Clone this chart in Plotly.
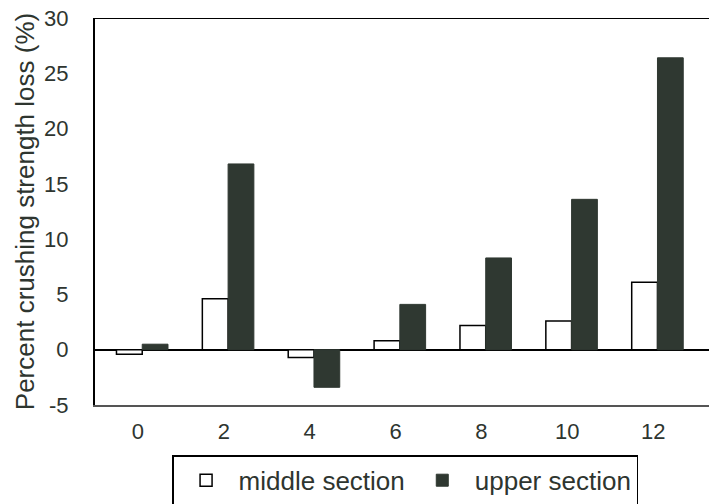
import plotly.graph_objects as go

categories = [0, 2, 4, 6, 8, 10, 12]
middle_section = [-0.4, 4.6, -0.7, 0.8, 2.2, 2.6, 6.1]
upper_section = [0.5, 16.8, -3.4, 4.1, 8.3, 13.6, 26.4]
y_ticks = [-5, 0, 5, 10, 15, 20, 25, 30]

font_col = "#2e352f"
dark = "#2f3831"

fig = go.Figure()
fig.add_trace(go.Bar(x=categories, y=middle_section, name="middle section",
                     marker=dict(color="white", line=dict(color="black", width=1.5)),
                     width=0.6, offset=-0.5))
fig.add_trace(go.Bar(x=categories, y=upper_section, name="upper section",
                     marker=dict(color=dark, line=dict(color=dark, width=1)),
                     width=0.6, offset=0.1))

fig.update_layout(
    width=709, height=504,
    margin=dict(l=95, r=0, t=18, b=99, autoexpand=False),
    paper_bgcolor="white", plot_bgcolor="white",
    font=dict(family="Liberation Sans, Arial, sans-serif", size=22, color=font_col),
    showlegend=True,
    legend=dict(orientation="h", x=0.505, xanchor="center", y=-0.13, yanchor="top",
                bordercolor="black", borderwidth=1.5, bgcolor="white",
                font=dict(size=26, color=font_col), itemwidth=55),
    xaxis=dict(range=[-1, 13.3], tickmode="array", tickvals=categories,
               ticktext=[str(c) for c in categories], showgrid=False, zeroline=False,
               showline=True, linecolor="#555", linewidth=2, ticks="", automargin=False,
               ticklabelstandoff=6, tickfont=dict(size=22)),
    yaxis=dict(range=[-5, 30], tickmode="array", tickvals=y_ticks,
               ticktext=[str(t) for t in y_ticks], showgrid=False, automargin=False,
               zeroline=True, zerolinecolor="black", zerolinewidth=1.5,
               showline=True, linecolor="black", linewidth=2, ticks="",
               ticklabelstandoff=20, tickfont=dict(size=22),
               title=dict(text="Percent crushing strength loss (%)", font=dict(size=26), standoff=2)),
)
fig.add_shape(type="line", xref="paper", yref="y", x0=0, x1=1, y0=30, y1=30,
              line=dict(color="black", width=2))
fig.write_html("out.html", config={"displayModeBar": False},
               post_script="document.body.style.margin='0px';document.body.style.overflow='hidden';")
